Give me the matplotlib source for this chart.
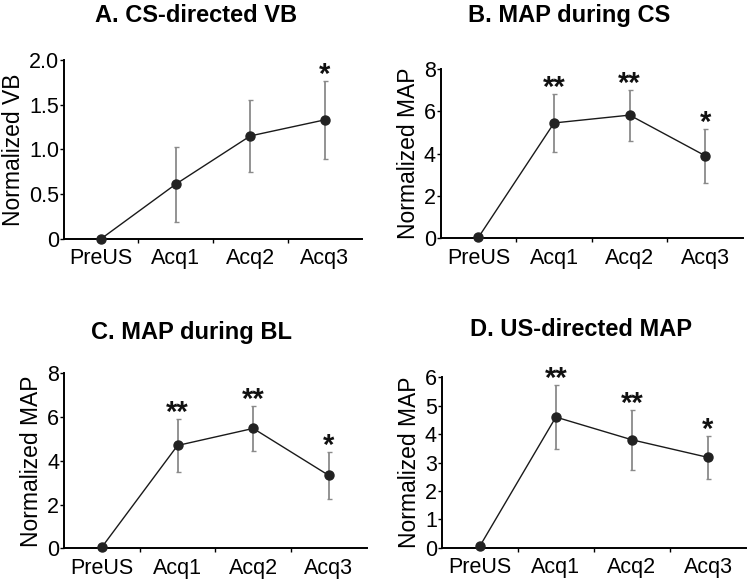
import matplotlib
matplotlib.use("Agg")
import matplotlib.pyplot as plt

plt.rcParams['font.family'] = ['Liberation Sans', 'DejaVu Sans']

categories = ["PreUS", "Acq1", "Acq2", "Acq3"]

titles = ["A. CS-directed VB", "B. MAP during CS", "C. MAP during BL", "D. US-directed MAP"]
ylabels = ["Normalized VB", "Normalized MAP", "Normalized MAP", "Normalized MAP"]

means_a = [0.0, 0.61, 1.15, 1.33]
errs_a = [0.0, 0.42, 0.40, 0.44]
stars_a = ["", "", "", "*"]

means_b = [0.05, 5.45, 5.82, 3.90]
errs_b = [0.0, 1.36, 1.20, 1.27]
stars_b = ["", "**", "**", "*"]

means_c = [0.05, 4.70, 5.48, 3.33]
errs_c = [0.0, 1.23, 1.02, 1.06]
stars_c = ["", "**", "**", "*"]

means_d = [0.05, 4.60, 3.80, 3.18]
errs_d = [0.0, 1.12, 1.06, 0.77]
stars_d = ["", "**", "**", "*"]

yticks_a = [0, 0.5, 1.0, 1.5, 2.0]
ytick_labels_a = ["0", "0.5", "1.0", "1.5", "2.0"]
yticks_b = [0, 2, 4, 6, 8]
yticks_c = [0, 2, 4, 6, 8]
yticks_d = [0, 1, 2, 3, 4, 5, 6]

fig = plt.figure(figsize=(7.5, 5.86), dpi=100)

panels = [
    dict(rect=[0.0853, 0.5927, 0.3974, 0.3049], means=means_a, errs=errs_a, stars=stars_a,
         yticks=yticks_a, ylabels_t=ytick_labels_a, ylim=(0, 2.0), title_xy=(0.261, 0.974)),
    dict(rect=[0.5876, 0.5933, 0.4031, 0.2890], means=means_b, errs=errs_b, stars=stars_b,
         yticks=yticks_b, ylabels_t=[str(v) for v in yticks_b], ylim=(0, 8), title_xy=(0.759, 0.974)),
    dict(rect=[0.0853, 0.0643, 0.4037, 0.2987], means=means_c, errs=errs_c, stars=stars_c,
         yticks=yticks_c, ylabels_t=[str(v) for v in yticks_c], ylim=(0, 8), title_xy=(0.255, 0.432)),
    dict(rect=[0.5890, 0.0654, 0.4057, 0.2907], means=means_d, errs=errs_d, stars=stars_d,
         yticks=yticks_d, ylabels_t=[str(v) for v in yticks_d], ylim=(0, 6), title_xy=(0.775, 0.437)),
]

x = list(range(len(categories)))

for i, p in enumerate(panels):
    ax = fig.add_axes(p["rect"])
    ax.errorbar(x, p["means"], yerr=p["errs"], fmt='none', ecolor='#8a8a8a',
                elinewidth=1.3, capsize=1.8, capthick=1.0, zorder=2)
    ax.plot(x, p["means"], color='#1a1a1a', lw=1.0, marker='o', ms=6.5,
            mfc='#222222', mec='#222222', zorder=3, clip_on=False)
    for xi, m, e, s in zip(x, p["means"], p["errs"], p["stars"]):
        if s:
            ax.annotate(s, xy=(xi, m + e), xytext=(0, -1.5), textcoords='offset points',
                        ha='center', va='baseline', fontsize=21, fontweight='bold',
                        color='#111111', annotation_clip=False)
    ax.set_xlim(-0.5, 3.5)
    ax.set_ylim(*p["ylim"])
    ax.set_yticks(p["yticks"])
    ax.set_yticklabels(p["ylabels_t"])
    ax.set_xticks([0.5, 1.5, 2.5])
    ax.set_xticklabels([])
    ax.set_xticks(x, minor=True)
    ax.set_xticklabels(categories, minor=True)
    ax.tick_params(axis='x', which='minor', length=0, pad=7, labelsize=15.5)
    ax.tick_params(axis='x', which='major', length=3, width=1.0, direction='out')
    ax.tick_params(axis='y', length=3, width=1.0, direction='out', pad=0.5, labelsize=15.5)
    for side in ['top', 'right']:
        ax.spines[side].set_visible(False)
    for side in ['left', 'bottom']:
        ax.spines[side].set_linewidth(1.4)
    ax.set_ylabel(ylabels[i], fontsize=16.5, labelpad=3)
    fig.text(p["title_xy"][0], p["title_xy"][1], titles[i], ha='center', va='center',
             fontsize=17, fontweight='bold')

fig.savefig("out.png", dpi=100)
